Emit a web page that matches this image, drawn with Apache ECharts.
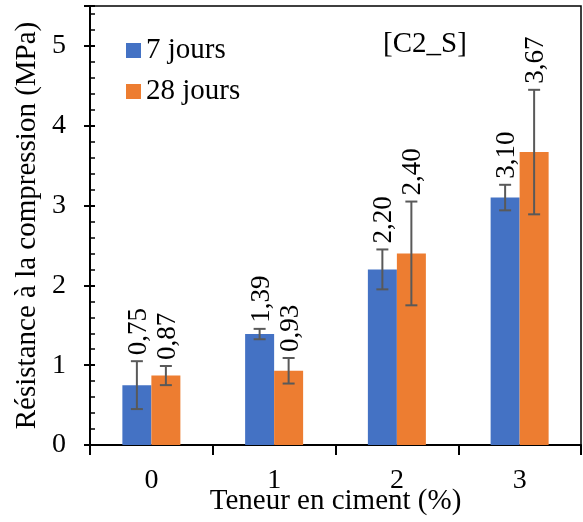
<!DOCTYPE html>
<html>
<head>
<meta charset="utf-8">
<script src="https://cdn.jsdelivr.net/npm/echarts@6/dist/echarts.min.js"></script>
<style>
  html, body { margin: 0; padding: 0; background: #fff; }
  #chart { width: 583px; height: 522px; }
</style>
</head>
<body>
<div id="chart"></div>
<script>
// données
const categories = ['0', '1', '2', '3']
const seriesNames = ['7 jours', '28 jours']
const values7 = [0.75, 1.39, 2.20, 3.10]
const values28 = [0.87, 0.93, 2.40, 3.67]
const err7 = [0.30, 0.065, 0.25, 0.16]
const err28 = [0.12, 0.16, 0.65, 0.78]

const font = '"Liberation Serif", "Times New Roman", serif'
const barW = 29

function errorSeries(values, errs, offset, axisIdx) {
  return {
    type: 'custom',
    z: 5,
    yAxisIndex: axisIdx,
    data: values.map((v, i) => [i, v, errs[i]]),
    renderItem(params, api) {
      const cx = api.coord([api.value(0), 0])[0] + offset
      const v = api.value(1)
      const e = api.value(2)
      const yt = api.coord([api.value(0), v + e])[1]
      const yb = api.coord([api.value(0), v - e])[1]
      const st = { stroke: '#595959', lineWidth: 2 }
      return {
        type: 'group',
        children: [
          { type: 'line', shape: { x1: cx, y1: yt, x2: cx, y2: yb }, style: st },
          { type: 'line', shape: { x1: cx - 6, y1: yt, x2: cx + 6, y2: yt }, style: st },
          { type: 'line', shape: { x1: cx - 6, y1: yb, x2: cx + 6, y2: yb }, style: st },
          {
            type: 'text',
            x: cx + 2,
            y: yt - 6,
            rotation: Math.PI / 2,
            style: {
              text: v.toFixed(2).replace('.', ','),
              font: '27px ' + font,
              fill: '#000',
              align: 'left',
              verticalAlign: 'middle'
            }
          }
        ]
      }
    }
  }
}

let chart = echarts.init(document.getElementById('chart'))
chart.setOption({
  animation: false,
  textStyle: { fontFamily: font },
  grid: {
    left: 90,
    right: 2,
    top: 6,
    bottom: 77,
    outerBoundsMode: 'none',
    containLabel: false,
    show: true,
    borderColor: '#000',
    borderWidth: 1.5
  },
  legend: {
    orient: 'vertical',
    left: 121,
    top: 31,
    itemWidth: 15,
    itemHeight: 15,
    itemGap: 12,
    icon: 'rect',
    data: seriesNames,
    textStyle: { fontFamily: font, fontSize: 29, color: '#000' }
  },
  graphic: [
    {
      type: 'text',
      left: 383,
      top: 30,
      style: { text: '[C2_S]', font: '29px ' + font, fill: '#000' }
    }
  ],
  xAxis: {
    type: 'category',
    data: categories,
    name: 'Teneur en ciment (%)',
    nameLocation: 'middle',
    nameGap: 42,
    nameMoveOverlap: false,
    nameTextStyle: { fontFamily: font, fontSize: 29, color: '#000' },
    axisLine: { lineStyle: { color: '#000', width: 2 } },
    axisTick: { show: true, length: 10, lineStyle: { color: '#000', width: 2 } },
    axisLabel: { fontFamily: font, fontSize: 28, color: '#000', margin: 22 }
  },
  yAxis: [
    {
      type: 'value',
      min: 0,
      max: 5.5,
      interval: 1,
      name: 'Résistance à la compression (MPa)',
      nameLocation: 'middle',
      nameGap: 48,
      nameMoveOverlap: false,
      nameTextStyle: { fontFamily: font, fontSize: 29, color: '#000' },
      axisLine: { show: true, lineStyle: { color: '#000', width: 2 } },
      axisTick: { show: true, inside: true, length: 5, lineStyle: { color: '#000', width: 2 } },
      minorTick: { show: true, splitNumber: 5, length: 5, lineStyle: { color: '#000', width: 1.5 } },
      axisLabel: { fontFamily: font, fontSize: 28, color: '#000', margin: 24, showMaxLabel: false },
      splitLine: { show: false }
    },
    {
      // graduations extérieures
      type: 'value',
      position: 'left',
      offset: 0,
      min: 0,
      max: 5.5,
      interval: 1,
      axisLine: { show: true, lineStyle: { color: '#000', width: 2 } },
      axisTick: { show: true, length: 6, lineStyle: { color: '#000', width: 2 } },
      axisLabel: { show: false },
      splitLine: { show: false }
    }
  ],
  series: [
    {
      name: seriesNames[0],
      type: 'bar',
      data: values7,
      barWidth: barW,
      barGap: '0%',
      itemStyle: { color: '#4472C4' }
    },
    {
      name: seriesNames[1],
      type: 'bar',
      data: values28,
      barWidth: barW,
      barGap: '0%',
      itemStyle: { color: '#ED7D31' }
    },
    errorSeries(values7, err7, -barW / 2, 0),
    errorSeries(values28, err28, barW / 2, 1)
  ]
})
</script>
</body>
</html>
